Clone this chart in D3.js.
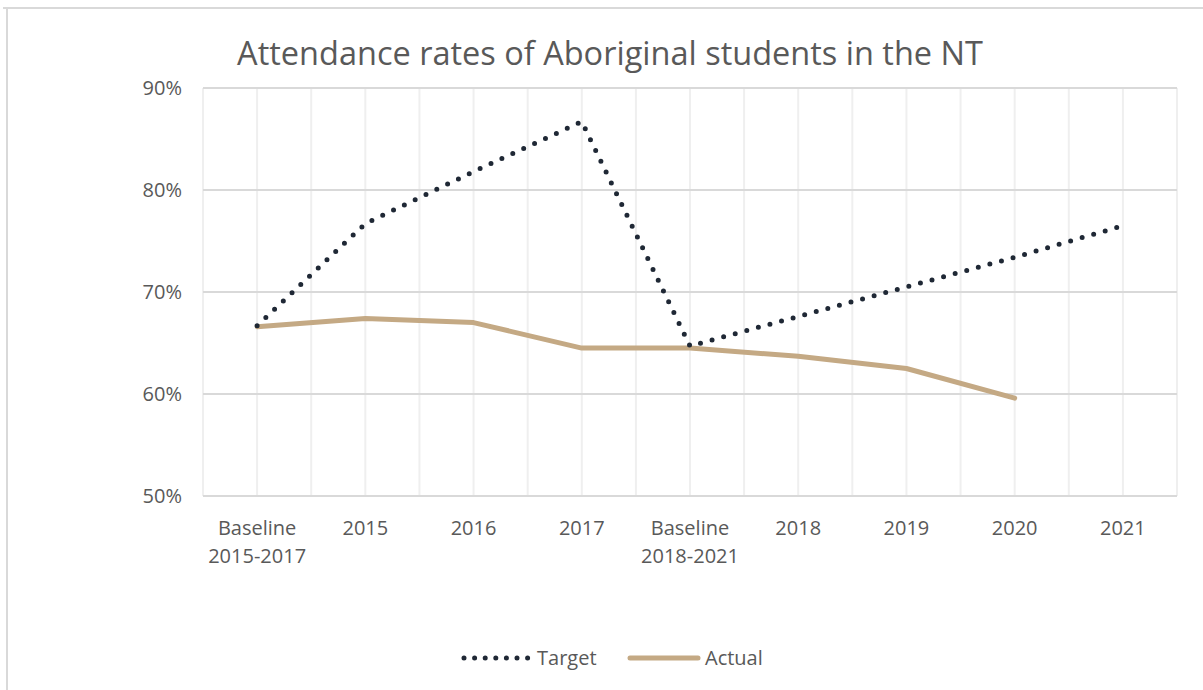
<!DOCTYPE html>
<html>
<head>
<meta charset="utf-8">
<script src="https://cdn.jsdelivr.net/npm/d3@7"></script>
<style>
  body { margin: 0; background: #fff; }
  text { font-family: "Open Sans", Lato, sans-serif; fill: #595959; }
</style>
</head>
<body>
<svg id="chart" width="1203" height="690"></svg>
<script>
// chart data
const categories = ["Baseline\n2015-2017", "2015", "2016", "2017", "Baseline\n2018-2021", "2018", "2019", "2020", "2021"];
const target = [66.7, 76.7, 81.8, 86.7, 64.7, 67.6, 70.5, 73.4, 76.5];
const actual = [66.6, 67.4, 67.0, 64.5, 64.5, 63.7, 62.5, 59.6, null];
const yTicks = [50, 60, 70, 80, 90];

const svg = d3.select("#chart");
const plotL = 203, plotR = 1177, plotT = 88, plotB = 496;

// outer frame (only top and left edges show)
svg.append("line").attr("x1", 3).attr("x2", 1203).attr("y1", 8).attr("y2", 8)
  .attr("stroke", "#d9d9d9").attr("stroke-width", 2);
svg.append("line").attr("x1", 7).attr("x2", 7).attr("y1", 7).attr("y2", 690)
  .attr("stroke", "#d9d9d9").attr("stroke-width", 2);

const x = d3.scaleBand().domain(categories).range([plotL, plotR]);
const y = d3.scaleLinear().domain([50, 90]).range([plotB, plotT]);
const cx = d => x(d) + x.bandwidth() / 2;

// vertical gridlines at band edges and centres
const g = svg.append("g");
categories.forEach(function(c, i){
  [x(c), cx(c)].forEach(function(px){
    g.append("line").attr("x1", px).attr("x2", px).attr("y1", plotT).attr("y2", plotB)
      .attr("stroke", "#efefef").attr("stroke-width", 2);
  });
});
g.append("line").attr("x1", plotR).attr("x2", plotR).attr("y1", plotT).attr("y2", plotB)
  .attr("stroke", "#efefef").attr("stroke-width", 2);

// horizontal gridlines
yTicks.forEach(function(t){
  g.append("line").attr("x1", plotL).attr("x2", plotR).attr("y1", y(t)).attr("y2", y(t))
    .attr("stroke", "#d9d9d9").attr("stroke-width", 2);
});

// y labels
const yAxis = d3.axisLeft(y).tickValues(yTicks).tickFormat(d => d + "%").tickSize(0).tickPadding(21);
const ya = svg.append("g").attr("transform", "translate(" + plotL + ",0)").call(yAxis);
ya.select(".domain").remove();
ya.selectAll("text").style("font-size", "20px").attr("fill", "#595959")
  .style("font-family", "'Open Sans', Lato, sans-serif");

// x labels
categories.forEach(function(c){
  const lines = c.split("\n");
  const t = svg.append("text").attr("text-anchor", "middle").style("font-size", "20px");
  lines.forEach(function(l, i){
    t.append("tspan").attr("x", cx(c)).attr("y", 535 + i * 28).text(l);
  });
});

// lines
const line = d3.line().defined(d => d.v != null).x(d => cx(d.c)).y(d => y(d.v));
svg.append("path")
  .datum(categories.map((c, i) => ({c: c, v: actual[i]})))
  .attr("d", line).attr("fill", "none").attr("stroke", "#c4a984")
  .attr("stroke-width", 5).attr("stroke-linejoin", "round").attr("stroke-linecap", "round");
svg.append("path")
  .datum(categories.map((c, i) => ({c: c, v: target[i]})))
  .attr("d", line).attr("fill", "none").attr("stroke", "#1f2835")
  .attr("stroke-width", 5).attr("stroke-dasharray", "0,12").attr("stroke-linecap", "round");

// title
svg.append("text").attr("x", 610).attr("y", 65).attr("text-anchor", "middle")
  .style("font-size", "32.5px").text("Attendance rates of Aboriginal students in the NT");

// legend
const lg = svg.append("g");
lg.append("line").attr("x1", 464).attr("x2", 528).attr("y1", 658).attr("y2", 658)
  .attr("stroke", "#1f2835").attr("stroke-width", 5).attr("stroke-dasharray", "0,10.6").attr("stroke-linecap", "round");
lg.append("text").attr("x", 537).attr("y", 665).style("font-size", "20px").text("Target");
lg.append("line").attr("x1", 630).attr("x2", 698).attr("y1", 658).attr("y2", 658)
  .attr("stroke", "#c4a984").attr("stroke-width", 5).attr("stroke-linecap", "round");
lg.append("text").attr("x", 705).attr("y", 665).style("font-size", "20px").text("Actual");
</script>
</body>
</html>
